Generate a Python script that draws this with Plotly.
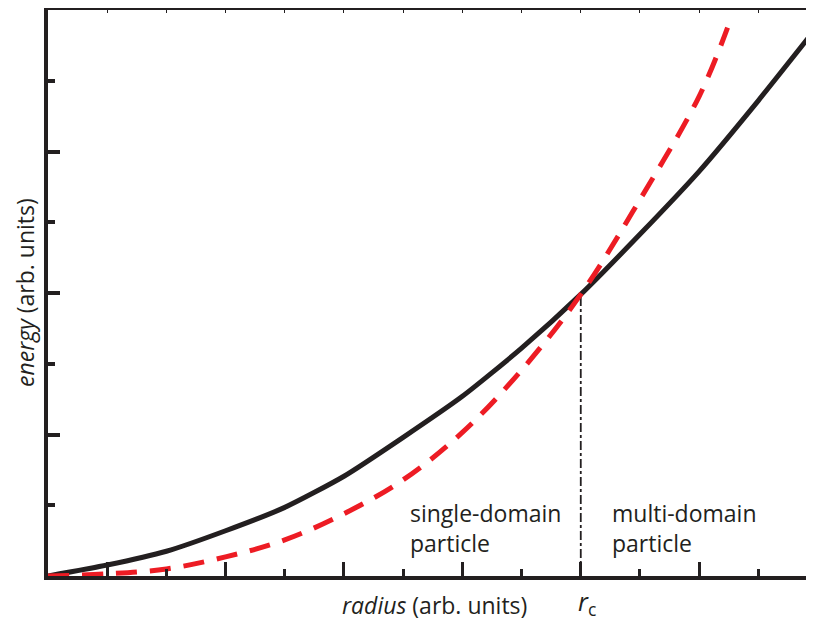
import plotly.graph_objects as go

# radius in tick units, energy in tick units
radius = [0, 1, 2, 3, 4, 5, 6, 7, 8, 9, 10, 11, 12, 13]
energy_multi = [0, 0.155, 0.35, 0.64, 0.97, 1.41, 1.96, 2.54, 3.22, 3.98, 4.83, 5.72, 6.72, 7.77]
radius_single = [0, 1, 2, 3, 4, 5, 6, 7, 8, 9, 10, 11, 11.48]
energy_single = [0, 0.03, 0.1, 0.27, 0.51, 0.88, 1.36, 2.03, 2.91, 3.98, 5.32, 6.78, 7.75]
r_c = 9
E_c = 3.98

BLACK = "#231f20"
RED = "#ed1c24"
FONT = "Open Sans"
FS = 23

fig = go.Figure()
fig.add_trace(go.Scatter(x=[r_c, r_c], y=[0, E_c], mode="lines",
                         line=dict(color=BLACK, width=1.8, dash="dashdot"),
                         hoverinfo="skip"))
fig.add_trace(go.Scatter(x=radius, y=energy_multi, mode="lines",
                         line=dict(color=BLACK, width=5, shape="spline", smoothing=0.6)))
fig.add_trace(go.Scatter(x=radius_single, y=energy_single, mode="lines",
                         line=dict(color=RED, width=5, dash="21px,13px", shape="spline")))
# invisible trace for the top axis
fig.add_trace(go.Scatter(x=[0], y=[0], xaxis="x2", mode="markers",
                         marker=dict(opacity=0), hoverinfo="skip"))

XR = [0, 12.94]
# the page body adds an 8px offset, so the figure is 8px smaller
fig.update_layout(
    width=806, height=614,
    margin=dict(l=40, r=0, t=2, b=46),
    plot_bgcolor="white", paper_bgcolor="white",
    showlegend=False,
    font=dict(family=FONT, color=BLACK, size=FS),
    xaxis=dict(range=XR, showgrid=False, zeroline=False, showticklabels=False,
               showline=True, linecolor=BLACK, linewidth=4,
               ticks="inside", tick0=1, dtick=2, ticklen=14, tickwidth=3, tickcolor=BLACK,
               minor=dict(ticks="inside", dtick=1, tick0=0, ticklen=7, tickwidth=3, tickcolor=BLACK)),
    xaxis2=dict(range=XR, overlaying="x", side="top", anchor="y",
                showgrid=False, zeroline=False, showticklabels=False,
                showline=True, linecolor=BLACK, linewidth=2,
                ticks="inside", dtick=1, tick0=0, ticklen=3, tickwidth=1, tickcolor=BLACK),
    yaxis=dict(range=[0, 8], showgrid=False, zeroline=False, showticklabels=False,
               showline=True, linecolor=BLACK, linewidth=4,
               ticks="inside", tick0=0, dtick=2, ticklen=12, tickwidth=4, tickcolor=BLACK,
               minor=dict(ticks="inside", dtick=1, tick0=0, ticklen=7, tickwidth=4, tickcolor=BLACK)),
)

fig.add_annotation(text="<i>radius</i> (arb. units)", xref="paper", yref="paper",
                   x=0.504, y=-0.051, xanchor="center", yanchor="middle",
                   showarrow=False, font=dict(size=FS, family=FONT, color=BLACK))
fig.add_annotation(text="<i>energy</i> (arb. units)", xref="paper", yref="paper",
                   x=-0.030, y=0.5, xanchor="center", yanchor="middle", textangle=-90,
                   showarrow=False, font=dict(size=FS, family=FONT, color=BLACK))
fig.add_annotation(text="<i>r</i><sub>c</sub>", x=r_c + 0.1, xref="x", yref="paper",
                   y=-0.047, xanchor="center", yanchor="middle",
                   showarrow=False, font=dict(size=FS + 2, family=FONT, color=BLACK))
fig.add_annotation(text="single-domain<br>particle", x=6.08, xref="x", y=0.68, yref="y",
                   xanchor="left", yanchor="middle", align="left",
                   showarrow=False, font=dict(size=FS, family=FONT, color=BLACK))
fig.add_annotation(text="multi-domain<br>particle", x=9.5, xref="x", y=0.68, yref="y",
                   xanchor="left", yanchor="middle", align="left",
                   showarrow=False, font=dict(size=FS, family=FONT, color=BLACK))

fig.write_html("out.html")
